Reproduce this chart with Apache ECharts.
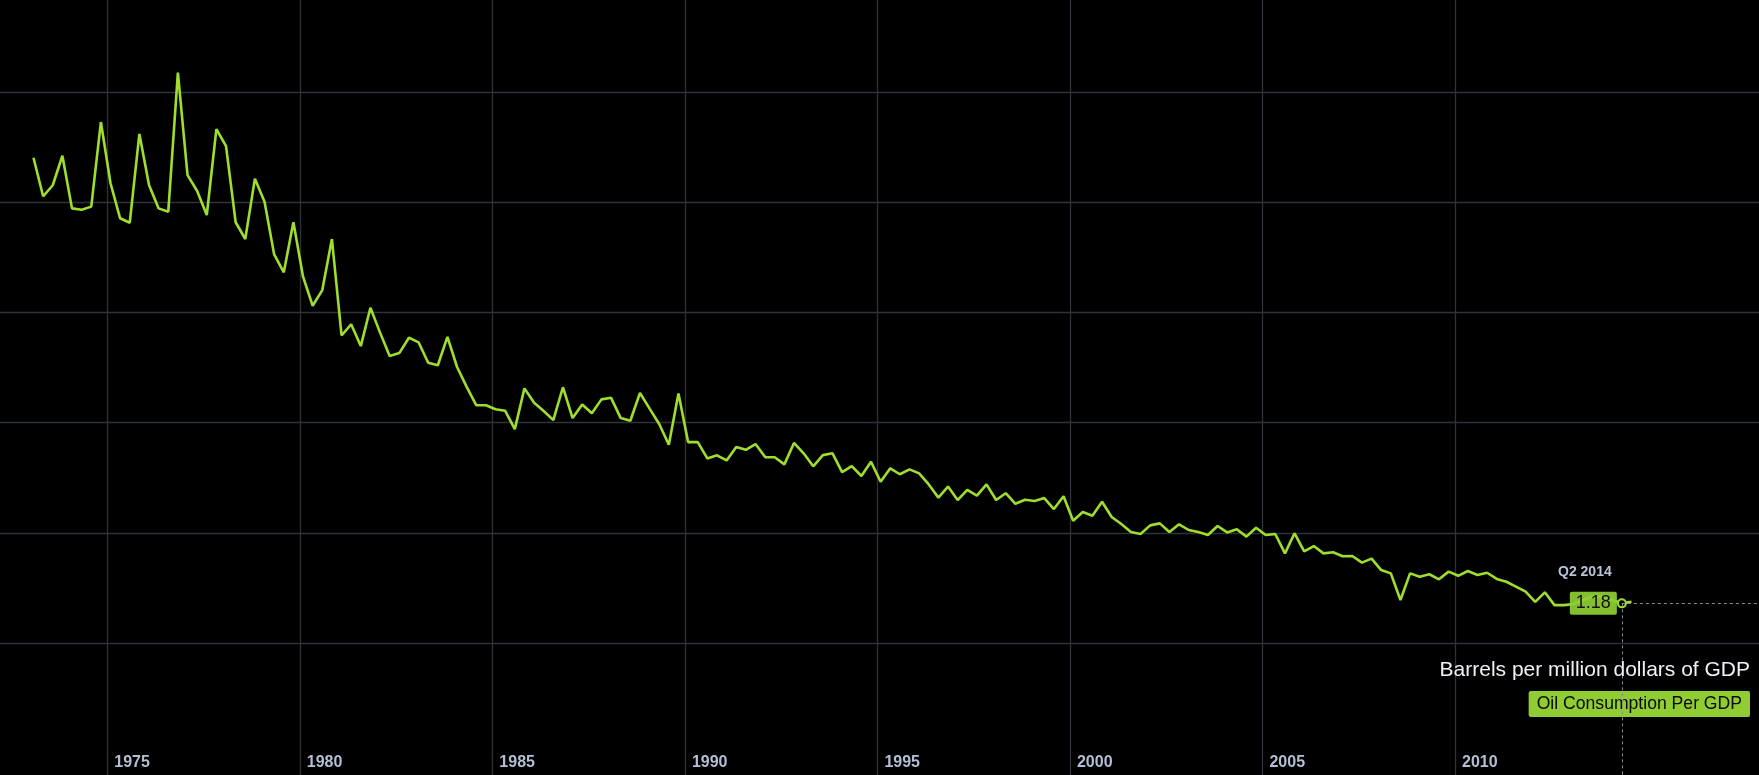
<!DOCTYPE html>
<html>
<head>
<meta charset="utf-8">
<script src="https://cdn.jsdelivr.net/npm/echarts@6/dist/echarts.min.js"></script>
<style>
html,body{margin:0;padding:0;background:#000;}
#chart{width:1759px;height:775px;}
</style>
</head>
<body>
<div id="chart"></div>
<script>
// ---- data (quarterly, starting Q1 1973) ----
const startYear = 1973;
const values1973to1979 = [3.203,3.028,3.078,3.212, 2.973,2.967,2.981,3.365, 3.087,2.928,2.908,3.311, 3.079,2.973,2.958,3.589, 3.124,3.052,2.943,3.333, 3.256,2.910,2.834,3.108, 3.003,2.764,2.683,2.910];
const values1980s = [2.663,2.531,2.602,2.834, 2.396,2.447,2.348,2.522, 2.409,2.303,2.316,2.386, 2.365,2.272,2.261,2.390, 2.253,2.163,2.079,2.079, 2.061,2.054,1.971,2.156, 2.091,2.053,2.012,2.161, 2.021,2.083,2.043,2.106, 2.113,2.021,2.009,2.135, 2.064,1.994,1.900,2.133];
const values1990s = [1.912,1.912,1.838,1.852, 1.829,1.890,1.877,1.903, 1.844,1.843,1.811,1.908, 1.861,1.802,1.853,1.861, 1.776,1.803,1.758,1.823, 1.732,1.793,1.766,1.788, 1.770,1.720,1.660,1.710, 1.649,1.695,1.669,1.720, 1.649,1.680,1.632,1.650, 1.645,1.658,1.608,1.666];
const values2000s = [1.555,1.595,1.578,1.641, 1.572,1.540,1.504,1.495, 1.534,1.543,1.504,1.539, 1.513,1.504,1.490,1.531, 1.502,1.516,1.483,1.523, 1.490,1.495,1.407,1.498, 1.416,1.440,1.407,1.412, 1.394,1.395,1.365,1.383, 1.331,1.316,1.195,1.316, 1.301,1.312,1.289,1.324];
const values2010s = [1.305,1.327,1.309,1.319, 1.291,1.278,1.256,1.233, 1.187,1.230,1.172,1.172, 1.177,1.195,1.213,1.209, 1.195,1.18,1.187];
const yearLabels = ['1975','1980','1985','1990','1995','2000','2005','2010'];
const seriesName = 'Oil Consumption Per GDP';
const unitTitle = 'Barrels per million dollars of GDP';
const highlightIndex = 165;          // Q2 2014
const highlightLabel = 'Q2 2014';

// ---- build ----
const lineColor = '#a0de2e';
const boxColor = '#8fcd33';
const gridColor = '#2e3239';
const font = 'Liberation Sans, Arial, Helvetica, sans-serif';

const values = [].concat(values1973to1979, values1980s, values1990s, values2000s, values2010s);
const points = values.map((v, i) => [startYear + i / 4 + 1 / 12, v]);
const hl = points[highlightIndex];

const seriesData = points.map((p, i) => {
  if (i !== highlightIndex) return p;
  return {
    value: p,
    symbol: 'circle',
    symbolSize: 8,
    itemStyle: { color: '#000', borderColor: lineColor, borderWidth: 2 },
    label: {
      show: true,
      position: 'left',
      distance: 0,
      formatter: (prm) => prm.value[1].toFixed(2),
      backgroundColor: 'rgba(143,205,51,0.93)',
      color: '#111',
      fontSize: 18,
      fontFamily: font,
      padding: [3, 6, 2, 6],
      borderRadius: 2
    }
  };
});

const xColors = [];
for (let y = 1970; y <= 2020; y += 5) xColors.push(y === 2015 ? 'rgba(0,0,0,0)' : gridColor);
const yColors = ['rgba(0,0,0,0)', 'rgba(0,0,0,0)'];
for (let k = 2; k <= 8; k++) yColors.push(gridColor);

const chart = echarts.init(document.getElementById('chart'), null, { renderer: 'canvas' });
chart.setOption({
  backgroundColor: '#000',
  animation: false,
  title: {
    text: unitTitle,
    right: 9,
    top: 660,
    padding: 0,
    textStyle: { color: '#eef1f6', fontSize: 21, fontWeight: 'normal', fontFamily: font }
  },
  legend: {
    data: [{ name: seriesName, icon: 'none' }],
    right: 9,
    top: 691,
    itemWidth: 0,
    itemHeight: 14,
    padding: [4, 8, 4, 3],
    backgroundColor: boxColor,
    borderRadius: 2,
    selectedMode: false,
    textStyle: { color: '#0a0a0a', fontSize: 17.6, fontFamily: font }
  },
  grid: {
    left: -85.23,
    right: -81.06,
    top: -17.84,
    bottom: -88.28,
    containLabel: false,
    outerBoundsMode: 'none'
  },
  xAxis: {
    type: 'value',
    min: 1970,
    max: 2020,
    interval: 5,
    offset: -117,
    axisLine: { show: false },
    axisTick: { show: false },
    splitLine: { show: true, lineStyle: { color: xColors, width: 1.3 } },
    axisLabel: {
      show: true,
      margin: 8,
      align: 'left',
      padding: [0, 0, 0, 7],
      color: '#b4bfd6',
      fontSize: 16,
      fontWeight: 'bold',
      fontFamily: font,
      formatter: (v) => (yearLabels.indexOf(String(v)) >= 0 ? String(v) : '')
    }
  },
  yAxis: {
    type: 'value',
    min: 0,
    max: 4,
    interval: 0.5,
    axisLine: { show: false },
    axisTick: { show: false },
    axisLabel: { show: false },
    splitLine: { show: true, lineStyle: { color: yColors, width: 1.3 } }
  },
  series: [{
    name: seriesName,
    type: 'line',
    data: seriesData,
    symbol: 'none',
    showSymbol: true,
    clip: false,
    lineStyle: { color: lineColor, width: 2.6 },
    itemStyle: { color: boxColor },
    emphasis: { disabled: true },
    z: 3,
    markLine: {
      silent: true,
      animation: false,
      symbol: ['none', 'none'],
      label: { show: false },
      lineStyle: { color: '#8a8a8a', type: [3, 3], width: 1 },
      emphasis: { disabled: true },
      data: [
        [{ coord: hl }, { coord: [2020, hl[1]] }],
        [{ coord: hl }, { coord: [hl[0], 0] }]
      ]
    },
    markPoint: {
      silent: true,
      animation: false,
      symbol: 'circle',
      symbolSize: 1,
      itemStyle: { color: 'rgba(0,0,0,0)' },
      label: {
        show: true,
        position: 'inside',
        offset: [-37, -31],
        formatter: highlightLabel,
        color: '#b9c3d8',
        fontSize: 14,
        fontWeight: 'bold',
        fontFamily: font
      },
      data: [{ coord: hl }]
    }
  }]
});
</script>
</body>
</html>
